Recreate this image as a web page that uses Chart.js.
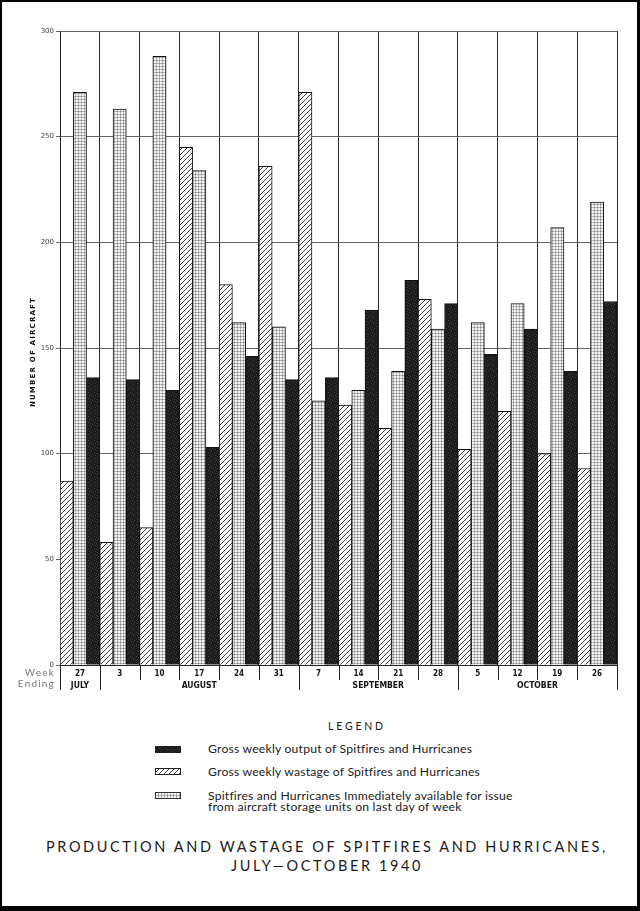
<!DOCTYPE html>
<html><head><meta charset="utf-8">
<script src="https://cdn.jsdelivr.net/npm/chart.js@4/dist/chart.umd.min.js"></script>
<style>
html,body{margin:0;padding:0;background:#fff;}
body{width:640px;height:911px;position:relative;overflow:hidden;font-family:Lato,"Open Sans",sans-serif;color:#1a1a1a;}
#c{position:absolute;left:0;top:0;}
#frame{position:absolute;left:0;top:0;width:640px;height:911px;box-sizing:border-box;border-style:solid;border-color:#000;border-width:2px 3px 5px 2px;pointer-events:none;}
.t{position:absolute;white-space:nowrap;}
#legtitle{left:0;width:714px;text-align:center;top:719px;font-size:10.5px;letter-spacing:2.8px;line-height:14px;}
.sw{position:absolute;left:155px;width:26px;height:7px;}
.lt{left:208px;font-size:12.2px;letter-spacing:0.2px;line-height:11px;}
.title{left:0;width:654px;text-align:center;font-size:14.5px;letter-spacing:2.6px;line-height:18px;}
</style>
</head><body>
<canvas id="c" width="640" height="700"></canvas>
<div id="legtitle" class="t">LEGEND</div>
<canvas id="sw0" class="sw" width="26" height="7" style="top:746px"></canvas>
<canvas id="sw1" class="sw" width="26" height="7" style="top:768px"></canvas>
<canvas id="sw2" class="sw" width="26" height="7" style="top:792px"></canvas>
<div class="t lt" style="top:743px">Gross weekly output of Spitfires and Hurricanes</div>
<div class="t lt" style="top:766px">Gross weekly wastage of Spitfires and Hurricanes</div>
<div class="t lt" style="top:790px">Spitfires and Hurricanes Immediately available for issue<br>from aircraft storage units on last day of week</div>
<div class="t title" style="top:838px">PRODUCTION AND WASTAGE OF SPITFIRES AND HURRICANES,</div>
<div class="t title" style="top:857px">JULY—OCTOBER 1940</div>
<div id="frame"></div>
<script>
const weeks = ['27','3','10','17','24','31','7','14','21','28','5','12','19','26'];
const months = ['JULY','AUGUST','SEPTEMBER','OCTOBER'];
const monthSpans = [1,5,4,4];
const wastage =   [87, 58, 65, 245, 180, 236, 271, 123, 112, 173, 102, 120, 100, 93];
const available = [271, 263, 288, 234, 162, 160, 125, 130, 139, 159, 162, 171, 207, 219];
const output =    [136, 135, 130, 103, 146, 135, 136, 168, 182, 171, 147, 159, 139, 172];
const yTicks = {min:0, max:300, step:50};
const legendLabels = ['Gross weekly output of Spitfires and Hurricanes','Gross weekly wastage of Spitfires and Hurricanes','Spitfires and Hurricanes Immediately available for issue from aircraft storage units on last day of week'];

function mk(w,h,fn){const c=document.createElement('canvas');c.width=w;c.height=h;const x=c.getContext('2d');fn(x);return c;}
const hatchTile = mk(5,5,x=>{x.fillStyle='#fff';x.fillRect(0,0,5,5);x.strokeStyle='#2a2a2a';x.lineWidth=0.9;
  x.beginPath();x.moveTo(0,5);x.lineTo(5,0);x.moveTo(-1,1);x.lineTo(1,-1);x.moveTo(4,6);x.lineTo(6,4);x.stroke();});
const dotTile = mk(3,3,x=>{x.fillStyle='#f4f4f4';x.fillRect(0,0,3,3);x.fillStyle='#b4b4b4';x.fillRect(0,0,3,1);x.fillRect(0,0,1,3);x.fillStyle='#888';x.fillRect(0,0,1,1);});
const darkTile = mk(6,6,x=>{x.fillStyle='#1c1c1c';x.fillRect(0,0,6,6);x.fillStyle='#3c3c3c';
  [[1,0],[4,2],[2,4],[5,5],[0,3]].forEach(p=>x.fillRect(p[0],p[1],1,1));});
const ctx = document.getElementById('c').getContext('2d');
const hatchP = ctx.createPattern(hatchTile,'repeat');
const dotP = ctx.createPattern(dotTile,'repeat');
const darkP = ctx.createPattern(darkTile,'repeat');

[['sw0',darkTile,null],['sw1',hatchTile,'#222'],['sw2',dotTile,'#333']].forEach(([id,tile,b])=>{
  const x=document.getElementById(id).getContext('2d');x.fillStyle=x.createPattern(tile,'repeat');x.fillRect(0,0,26,7);
  if(b){x.strokeStyle=b;x.lineWidth=1;x.strokeRect(0.5,0.5,25,6);}
});

const extras = {
  id:'extras',
  afterDraw(chart){
    const c=chart.ctx, a=chart.chartArea;
    const n=weeks.length, cw=(a.right-a.left)/n;
    const bounds=[0];let s=0;monthSpans.forEach(m=>{s+=m;bounds.push(s);});
    c.save();
    c.strokeStyle='#222';c.lineWidth=1;
    for(let i=0;i<=n;i++){
      const x=Math.round(a.left+i*cw)+0.5;
      const len=bounds.includes(i)?25:15;
      c.beginPath();c.moveTo(x,a.bottom);c.lineTo(x,a.bottom+len);c.stroke();
    }
    c.fillStyle='#111';c.font='bold 8.5px "DejaVu Sans Condensed","Liberation Sans Narrow","DejaVu Sans",sans-serif';
    c.textAlign='center';c.textBaseline='middle';
    for(let k=0;k<months.length;k++){
      const xm=a.left+(bounds[k]+bounds[k+1])/2*cw;
      c.fillText(months[k],xm,a.bottom+21);
    }
    c.fillStyle='#7a7a7a';c.font='10px Lato, sans-serif';c.textAlign='right';
    c.letterSpacing='1.2px';
    c.fillText('Week',55,a.bottom+8);
    c.fillText('Ending',55,a.bottom+19);
    c.letterSpacing='1.2px';
    c.fillStyle='#111';c.font='bold 7px "DejaVu Sans", sans-serif';c.textAlign='center';
    c.translate(33,(a.top+a.bottom)/2+4);c.rotate(-Math.PI/2);
    c.fillText('NUMBER OF AIRCRAFT',0,0);
    c.restore();
  }
};

new Chart(ctx,{
  type:'bar',
  data:{labels:weeks,datasets:[
    {label:legendLabels[1],data:wastage,backgroundColor:hatchP,borderColor:'#111',borderWidth:1},
    {label:legendLabels[2],data:available,backgroundColor:dotP,borderColor:'#111',borderWidth:1},
    {label:legendLabels[0],data:output,backgroundColor:darkP,borderColor:'#111',borderWidth:1}
  ]},
  options:{
    responsive:false,animation:false,devicePixelRatio:1,
    layout:{padding:{left:0,top:31,right:23,bottom:0}},
    datasets:{bar:{categoryPercentage:1,barPercentage:1}},
    plugins:{legend:{display:false},tooltip:{enabled:false}},
    scales:{
      x:{grid:{offset:true,color:'#2a2a2a',lineWidth:1,drawTicks:false},border:{display:true,color:'#222'},
         ticks:{padding:4,color:'#111',font:{size:8,weight:'bold',family:'"DejaVu Sans Condensed","DejaVu Sans",sans-serif'}},
         afterFit:s=>{s.height=35;}},
      y:{min:yTicks.min,max:yTicks.max,ticks:{stepSize:yTicks.step,padding:2,color:'#444',font:{size:7,family:'"DejaVu Sans",sans-serif'}},
         grid:{color:'#555',lineWidth:0.9,tickLength:4,drawTicks:true},border:{display:true,color:'#222'},
         afterFit:s=>{s.width=60;}}
    }
  },
  plugins:[extras]
});
</script>
</body></html>
